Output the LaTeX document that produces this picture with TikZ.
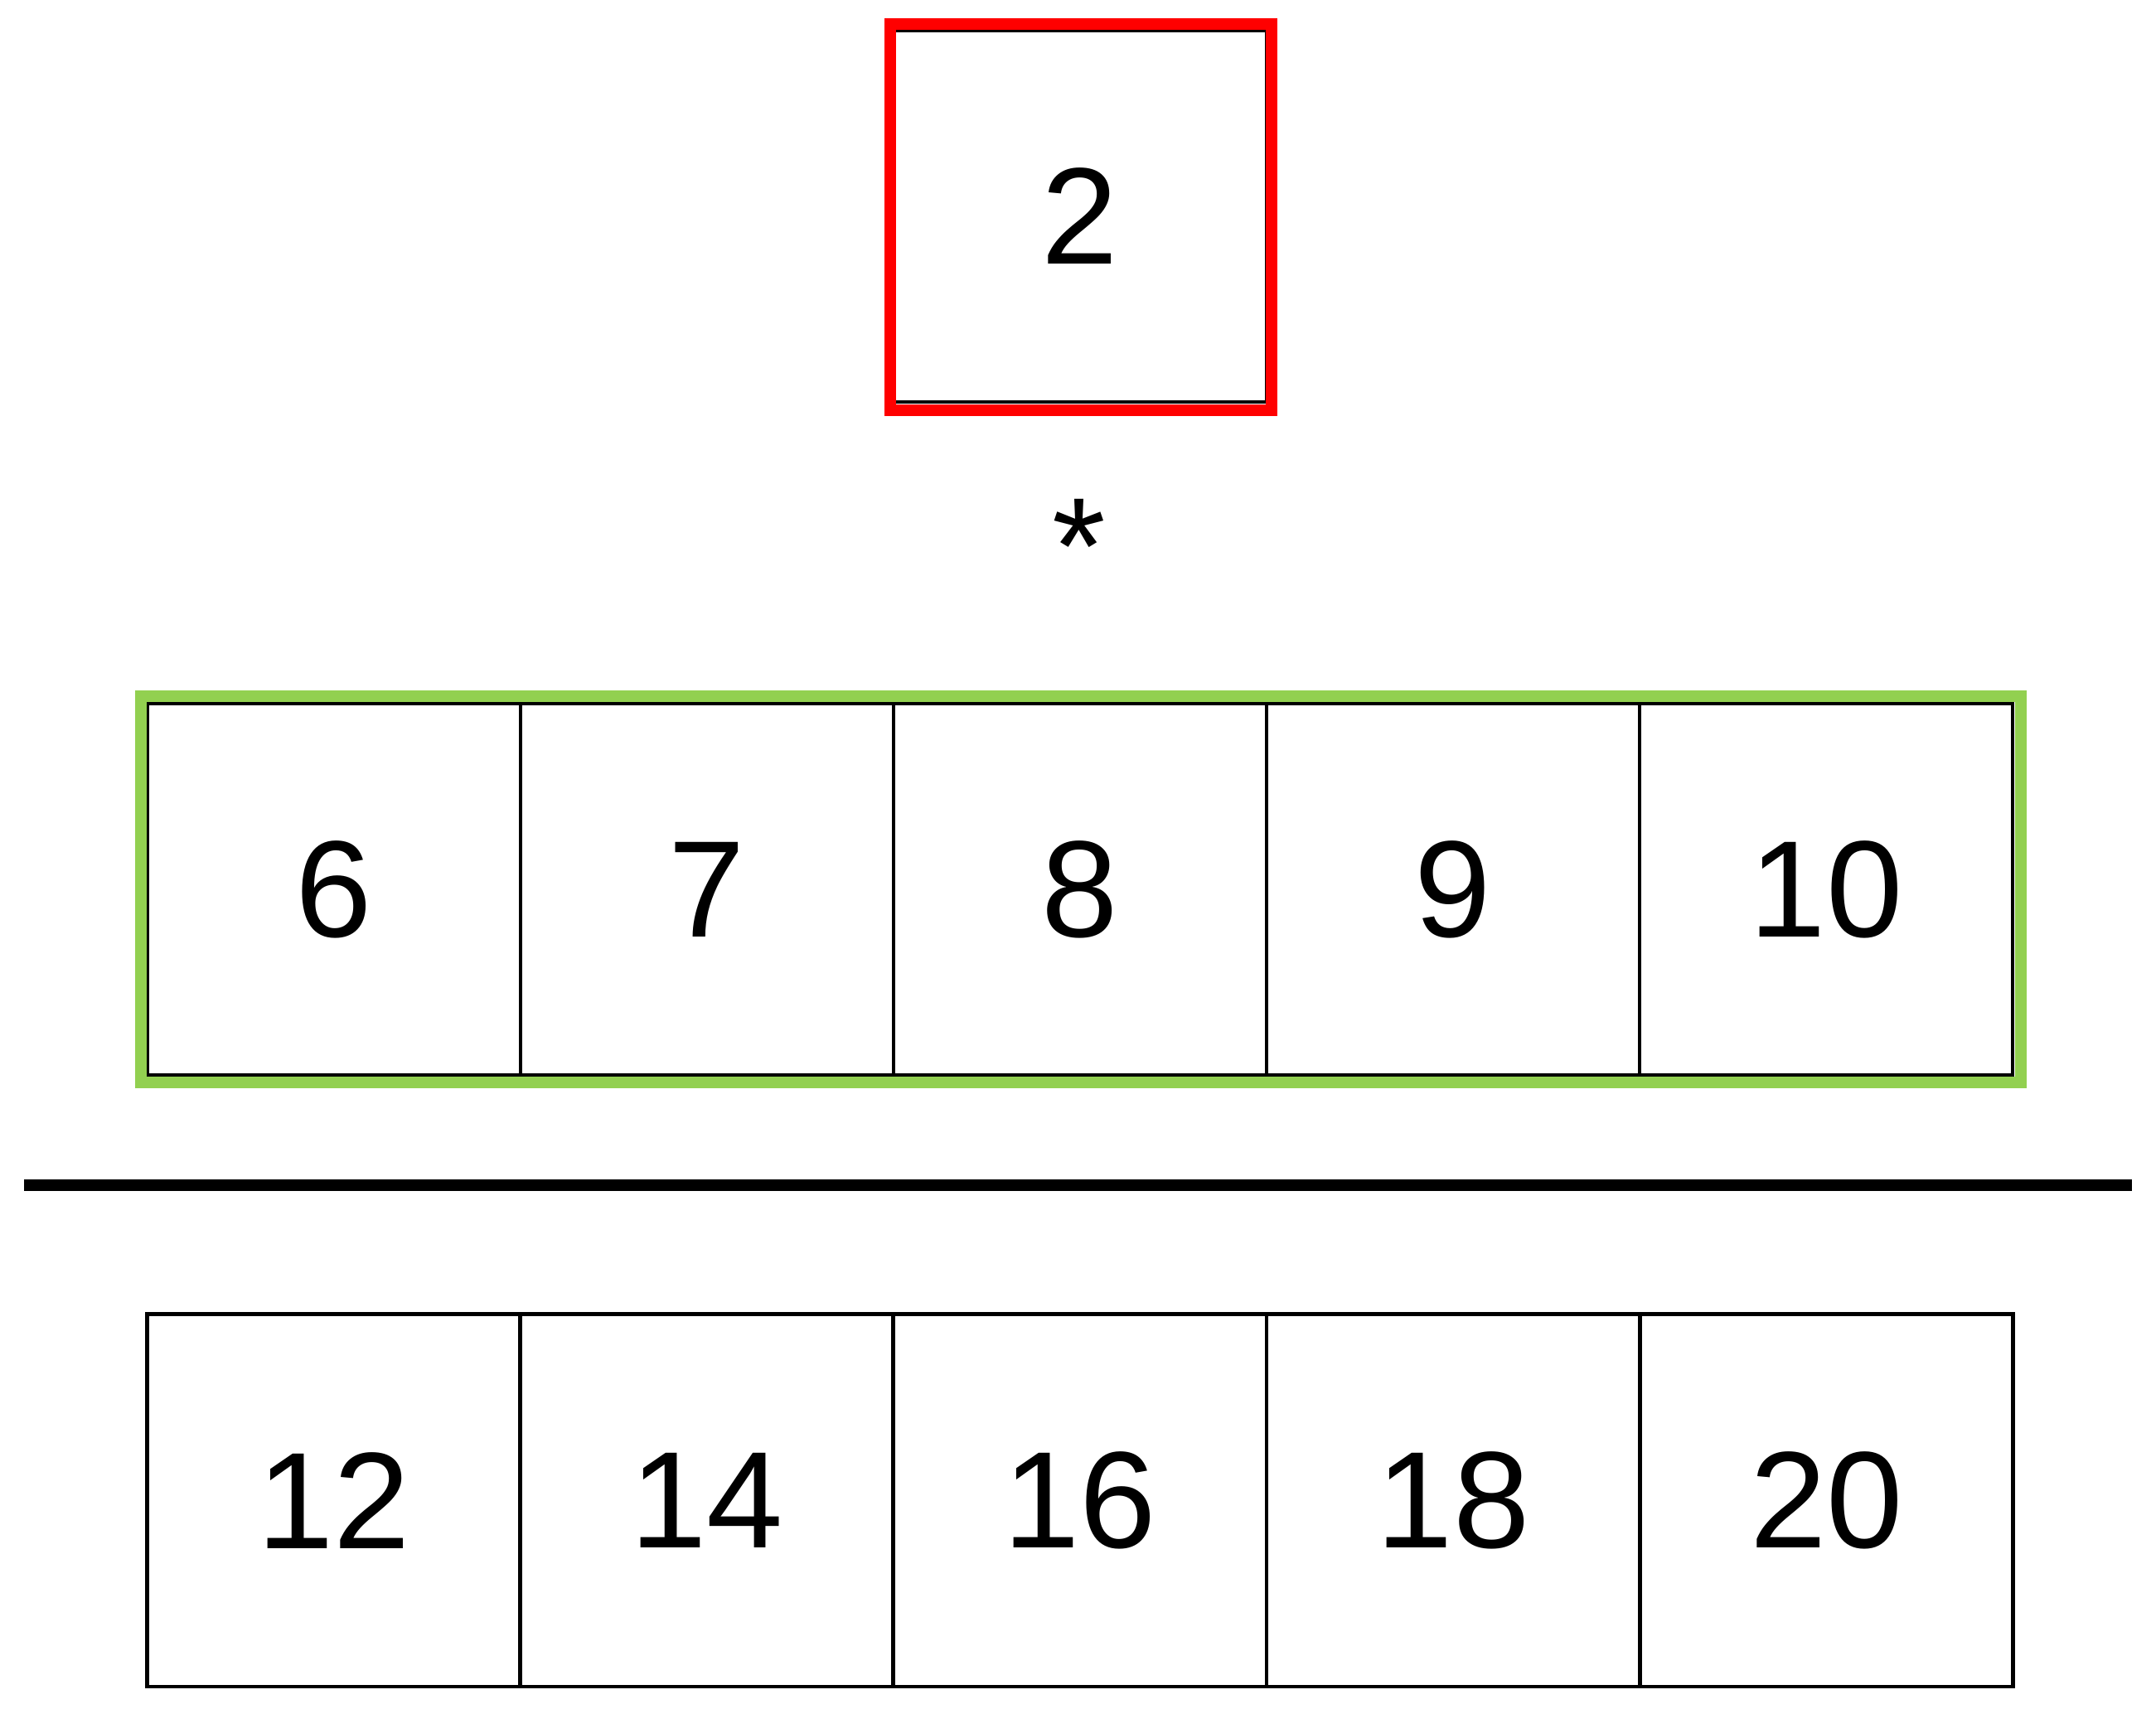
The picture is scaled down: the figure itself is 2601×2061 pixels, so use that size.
\documentclass[tikz,border=0pt]{standalone}
\usepackage{fontspec}
\setmainfont{Liberation Sans}
\definecolor{redframe}{RGB}{255,0,0}
\definecolor{greenframe}{RGB}{146,208,80}
\begin{document}
\begin{tikzpicture}[x=0.3pt,y=-0.3pt,
  cellbox/.style={draw=black, fill=white, line width=1.35pt, minimum width=135pt,
    minimum height=#1, inner sep=0pt, outer sep=0pt, anchor=north west,
    font=\fontsize{49.8}{60}\selectfont},
  cellbox/.default=134.4pt,
  redline/.style={draw=redframe, line width=4.2pt},
  greenline/.style={draw=greenframe, line width=4.2pt},
  ruleline/.style={draw=black, line width=4.2pt},
  optext/.style={font=\fontsize{49.8}{60}\selectfont, anchor=base, inner sep=0pt}]
\useasboundingbox (0,0) rectangle (2601,2061);

% top operand
\node[cellbox] (a) at (1078,37) {2};
\draw[redline] (1074,29) rectangle (1534,495);

% operator
\node[optext] (star) at (1301.5,716) {*};

% middle array
\node[cellbox] (b1) at (178,849) {6};
\node[cellbox] (b2) at (628,849) {7};
\node[cellbox] (b3) at (1078,849) {8};
\node[cellbox] (b4) at (1528,849) {9};
\node[cellbox] (b5) at (1978,849) {10};
\draw[greenline] (170,840) rectangle (2438,1306);

% rule
\coordinate (lineL) at (29,1429.7);
\coordinate (lineR) at (2572,1429.7);
\draw[ruleline] (lineL) -- (lineR);

% result array
\node[cellbox=134.8pt] (c1) at (177.5,1585.5) {12};
\node[cellbox=134.8pt] (c2) at (627.7,1585.5) {14};
\node[cellbox=134.8pt] (c3) at (1077.9,1585.5) {16};
\node[cellbox=134.8pt] (c4) at (1528.1,1585.5) {18};
\node[cellbox=134.8pt] (c5) at (1978.3,1585.5) {20};
\end{tikzpicture}
\end{document}
